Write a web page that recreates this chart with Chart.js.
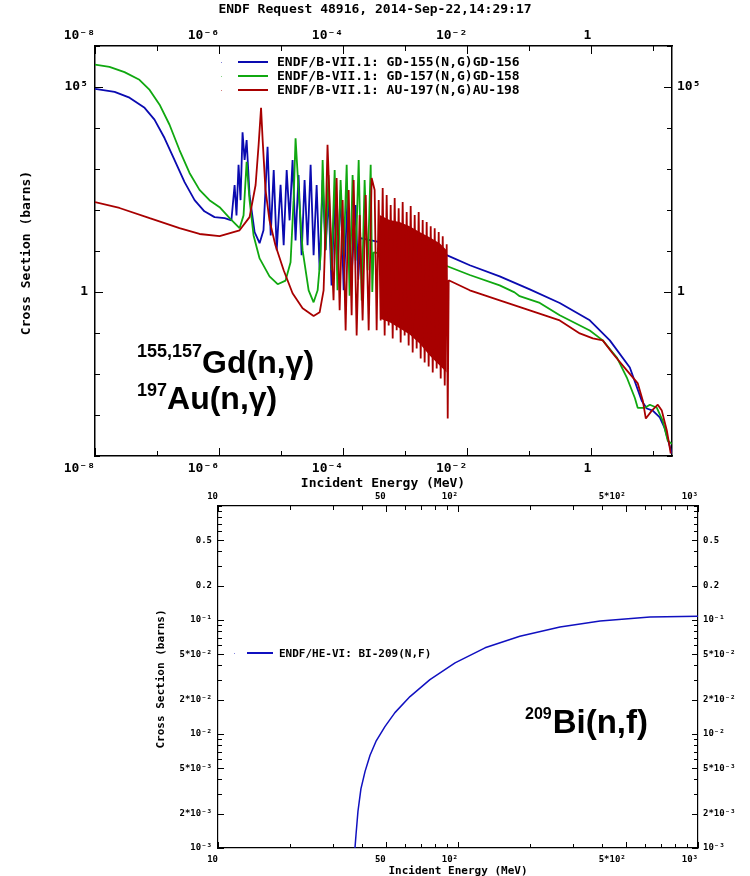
<!DOCTYPE html>
<html>
<head>
<meta charset="utf-8">
<script src="https://cdn.jsdelivr.net/npm/chart.js@4.4.1/dist/chart.umd.min.js"></script>
<style>
  html, body { margin: 0; padding: 0; background: #fff; }
  #wrap { position: relative; width: 750px; height: 876px; overflow: hidden; }
  #topChart { position: absolute; left: 0; top: 0; }
  #botChart { position: absolute; left: 0; top: 490px; }
</style>
</head>
<body>
<div id="wrap">
  <canvas id="topChart" width="750" height="492"></canvas>
  <canvas id="botChart" width="750" height="386"></canvas>
</div>
<script>
// ENDF request plot: (n,g) for Gd-155, Gd-157, Au-197 on top, Bi-209 (n,f) below
// points are [energy MeV, cross section barns]

const gd155 = [
  [1e-8, 9.0e4], [2.07e-8, 7.6e4], [3.6e-8, 5.5e4], [6.3e-8, 3.1e4], [9.1e-8, 1.6e4],
  [1.32e-7, 5.7e3], [1.91e-7, 1.66e3], [2.78e-7, 478], [4.03e-7, 174], [5.8e-7, 93],
  [8.45e-7, 67], [1.23e-6, 63], [1.58e-6, 56], [1.78e-6, 407], [1.91e-6, 74],
  [2.06e-6, 1260], [2.22e-6, 174], [2.39e-6, 7900], [2.58e-6, 1660], [2.78e-6, 5100],
  [3.1e-6, 229], [3.74e-6, 29], [4.5e-6, 15.5], [5.2e-6, 32], [6.05e-6, 3500],
  [6.8e-6, 24], [7.6e-6, 940], [8.5e-6, 10.5], [9.8e-6, 410], [1.1e-5, 13.8],
  [1.23e-5, 940], [1.37e-5, 56], [1.53e-5, 1660], [1.71e-5, 18], [1.91e-5, 710],
  [2.14e-5, 7.9], [2.39e-5, 540], [2.67e-5, 13.8], [2.99e-5, 1260], [3.34e-5, 7.9],
  [3.74e-5, 407], [4.18e-5, 3.4], [4.67e-5, 540], [5.2e-5, 10.5], [5.8e-5, 229],
  [6.5e-5, 1.45], [7.3e-5, 174], [8.1e-5, 3.4], [9.1e-5, 307], [1.02e-4, 1.1],
  [1.18e-4, 229], [1.37e-4, 2.6], [1.59e-4, 132], [1.75e-4, 2.0], [1.9e-4, 20.6],
  [7.85e-4, 13.1], [4.67e-3, 7.9],
  [1.1e-2, 4.5], [3.34e-2, 2.4], [0.102, 1.16], [0.31, 0.54], [0.946, 0.204],
  [1.99, 0.066], [4.18, 0.0144], [6.5, 2.24e-3], [7.85, 1.44e-3], [9.8, 1.28e-3],
  [12.7, 8.7e-4], [15.3, 4.7e-4], [19.9, 1.15e-4]
];

const gd157 = [
  [1e-8, 3.5e5], [1.71e-8, 3.1e5], [2.99e-8, 2.3e5], [5.2e-8, 1.5e5], [7.6e-8, 8.5e4],
  [1.1e-7, 3.7e4], [1.59e-7, 1.2e4], [2.3e-7, 2.9e3], [3.34e-7, 800], [4.84e-7, 310],
  [7.0e-7, 174], [1.02e-6, 117], [1.48e-6, 63], [2.14e-6, 36], [2.48e-6, 74],
  [2.78e-6, 1500], [3.1e-6, 174], [3.6e-6, 24], [4.5e-6, 6.6], [6.5e-6, 2.4],
  [8.8e-6, 1.55], [1.18e-5, 1.9], [1.42e-5, 5.3], [1.59e-5, 174], [1.71e-5, 5600],
  [1.91e-5, 310], [2.22e-5, 10.5], [2.78e-5, 1.1], [3.34e-5, 0.56], [3.88e-5, 1.1],
  [4.34e-5, 7.9], [4.67e-5, 1660], [5.2e-5, 10.5], [5.8e-5, 710], [6.5e-5, 3.4],
  [7.3e-5, 940], [8.1e-5, 1.1], [9.1e-5, 540], [1.02e-4, 7.9], [1.14e-4, 1260],
  [1.27e-4, 0.81], [1.42e-4, 710], [1.59e-4, 5.9], [1.78e-4, 1660], [1.99e-4, 0.62],
  [2.22e-4, 540], [2.48e-4, 3.4], [2.78e-4, 1260], [2.95e-4, 1.0], [3.1e-4, 9.3],
  [1.17e-3, 6.7], [4.67e-3, 4.3],
  [1.1e-2, 2.6], [3.34e-2, 1.45], [5.8e-2, 0.98], [7.0e-2, 0.79], [0.148, 0.54],
  [0.31, 0.27], [0.946, 0.115], [1.53, 0.066], [2.58, 0.0253], [3.74, 8.2e-3],
  [5.04, 2.6e-3], [5.6, 1.5e-3], [7.3, 1.5e-3], [8.8, 1.78e-3], [11.4, 1.5e-3],
  [14.2, 7.2e-4], [17.1, 2.35e-4], [19.9, 2.0e-4]
];

const au197 = [
  [1e-8, 155], [2.48e-8, 112], [7.6e-8, 63], [2.3e-7, 36], [4.84e-7, 26],
  [1.02e-6, 23], [2.14e-6, 32], [3.1e-6, 67], [3.88e-6, 407], [4.34e-6, 3900],
  [4.75e-6, 3.1e4], [5.04e-6, 5100], [5.6e-6, 310], [6.5e-6, 56], [8.1e-6, 13.8],
  [1.1e-5, 3.4], [1.53e-5, 0.93], [2.22e-5, 0.40], [3.34e-5, 0.26], [4.18e-5, 0.32],
  [4.84e-5, 1.1], [5.2e-5, 32], [5.6e-5, 3900], [6.3e-5, 32], [7.0e-5, 0.63],
  [7.85e-5, 603], [8.78e-5, 0.357], [9.81e-5, 175], [1.097e-4, 0.116], [1.227e-4, 307],
  [1.371e-4, 0.27], [1.477e-4, 537], [1.651e-4, 0.0873], [1.846e-4, 75], [2.06e-4, 0.203],
  [2.31e-4, 231], [2.58e-4, 0.116], [2.88e-4, 603], [3.22e-4, 307], [3.47e-4, 0.116],
  [3.74e-4, 175], [4.03e-4, 0.203], [4.34e-4, 343], [4.67e-4, 0.0873], [5.03e-4, 231],
  [5.42e-4, 0.153], [5.84e-4, 132], [6.29e-4, 0.0738], [6.77e-4, 195], [7.29e-4, 0.116],
  [7.85e-4, 111], [8.46e-4, 0.0589], [9.11e-4, 156], [9.81e-4, 0.0873], [1.057e-3, 89],
  [1.138e-3, 0.0498], [1.227e-3, 125], [1.321e-3, 0.0336], [1.423e-3, 75], [1.532e-3, 0.042],
  [1.65e-3, 89], [1.778e-3, 0.0239], [1.915e-3, 57], [2.06e-3, 0.0191], [2.22e-3, 51],
  [2.39e-3, 0.0152], [2.58e-3, 40], [2.78e-3, 0.0109], [2.99e-3, 36], [3.22e-3, 0.0136],
  [3.47e-3, 29], [3.74e-3, 7.76e-3], [4.03e-3, 23], [4.34e-3, 5.24e-3], [4.67e-3, 14.7],
  [4.85e-3, 8.17e-4], [5.03e-3, 1.93],
  [1.1e-2, 1.10], [3.34e-2, 0.627], [0.102, 0.357], [0.31, 0.203], [0.653, 0.0977],
  [1.06, 0.0738], [1.53, 0.066], [2.22, 0.0316], [3.74, 0.0123], [5.62, 5.9e-3],
  [6.77, 2.24e-3], [7.57, 8.2e-4], [9.46, 1.28e-3], [11.8, 1.78e-3], [13.7, 1.28e-3],
  [16.5, 4.2e-4], [19.1, 1.15e-4]
];

// inner envelope of the densely packed Au-197 resonances (drawn as a solid band)
const auBandE = [3.88e-4, 5.62e-4, 8.14e-4, 1.18e-3, 1.71e-3, 2.48e-3, 3.6e-3, 4.67e-3];
const auBandHigh = [75, 57, 51, 40, 29, 21.7, 15.5, 10.5];
const auBandLow = [0.227, 0.182, 0.13, 0.0925, 0.0557, 0.0283, 0.0161, 0.0109];

const bi209 = [
  [36.9, 8.0e-4], [37.6, 1.32e-3], [38.3, 2.1e-3], [39.4, 3.3e-3], [41.0, 4.7e-3],
  [43.0, 6.5e-3], [45.5, 8.6e-3], [49.6, 0.0116], [54.6, 0.0154], [63.1, 0.0213],
  [76.4, 0.030], [97.2, 0.042], [129.6, 0.057], [181, 0.072], [266, 0.087],
  [391, 0.098], [631, 0.106], [1000, 0.108]
];

const topLabels = [
  'ENDF/B-VII.1: GD-155(N,G)GD-156',
  'ENDF/B-VII.1: GD-157(N,G)GD-158',
  'ENDF/B-VII.1: AU-197(N,G)AU-198'
];
const botLabel = 'ENDF/HE-VI: BI-209(N,F)';

const topXTicks = [1e-8, 1e-7, 1e-6, 1e-5, 1e-4, 1e-3, 1e-2, 1e-1, 1, 10];
const topXLabelAt = [1e-8, 1e-6, 1e-4, 1e-2, 1];
const topXLabels = ['10⁻⁸', '10⁻⁶', '10⁻⁴', '10⁻²', '1'];
const topYTicks = [1e-4, 1e-3, 1e-2, 1e-1, 1, 10, 100, 1e3, 1e4, 1e5, 1e6];
const topYLabelAt = [1e5, 1];
const topYLabels = ['10⁵', '1'];

const botXTicks = [10, 20, 30, 40, 50, 60, 70, 80, 90, 100, 200, 300, 400, 500, 600, 700, 800, 900, 1000];
const botXLabelAt = [10, 50, 100, 500, 1000];
const botXLabels = ['10', '50', '10²', '5*10²', '10³'];
const botYTicks = [0.001, 0.002, 0.003, 0.004, 0.005, 0.006, 0.007, 0.008, 0.009,
  0.01, 0.02, 0.03, 0.04, 0.05, 0.06, 0.07, 0.08, 0.09,
  0.1, 0.2, 0.3, 0.4, 0.5, 0.6, 0.7, 0.8, 0.9, 1];
const botYLabelAt = [0.5, 0.2, 0.1, 0.05, 0.02, 0.01, 0.005, 0.002, 0.001];
const botYLabels = ['0.5', '0.2', '10⁻¹', '5*10⁻²', '2*10⁻²', '10⁻²', '5*10⁻³', '2*10⁻³', '10⁻³'];

const BLUE = '#0a0ab0', GREEN = '#10a810', RED = '#a80000';
const MONO = '"DejaVu Sans Mono", monospace';
const SANS = '"Liberation Sans", Arial, sans-serif';

function sameVal(a, b){ return Math.abs(Math.log10(a) - Math.log10(b)) < 1e-6; }
function labelFor(v, at, text){
  const i = at.findIndex(a => sameVal(a, v));
  return i < 0 ? '' : text[i];
}
function pts(arr){ return arr.map(p => ({x: p[0], y: p[1]})); }
function zipPts(xs, ys){ return xs.map((x, i) => ({x: x, y: ys[i]})); }

function logAxis(pos, min, max, ticks, at, text, size, fontSize, pad, borderW){
  const horiz = pos === 'top' || pos === 'bottom';
  return {
    type: 'logarithmic', position: pos, min: min, max: max,
    afterBuildTicks: s => { s.ticks = ticks.map(v => ({value: v})); },
    afterFit: s => { if (horiz) s.height = size; else s.width = size; },
    grid: { display: false, drawTicks: false },
    border: { display: true, color: '#000', width: borderW },
    ticks: {
      autoSkip: false, maxRotation: 0, minRotation: 0, padding: pad, color: '#000',
      align: horiz ? 'end' : 'center',
      font: { family: MONO, weight: 'bold', size: fontSize },
      callback: v => labelFor(v, at, text)
    }
  };
}

// tick marks drawn inward from each axis line
const inwardTicks = {
  id: 'inwardTicks',
  afterDatasetsDraw(chart, args, o){
    const {ctx, chartArea: a} = chart;
    ctx.save();
    ctx.strokeStyle = '#000';
    ctx.lineWidth = 1;
    Object.values(chart.scales).forEach(s => {
      const major = o.major[s.axis] || [];
      s.ticks.forEach(t => {
        const len = major.some(m => sameVal(m, t.value)) ? o.majorLen : o.minorLen;
        const p = Math.round(s.getPixelForValue(t.value)) + 0.5;
        ctx.beginPath();
        if (s.position === 'left'){ ctx.moveTo(a.left, p); ctx.lineTo(a.left + len, p); }
        if (s.position === 'right'){ ctx.moveTo(a.right, p); ctx.lineTo(a.right - len, p); }
        if (s.position === 'top'){ ctx.moveTo(p, a.top); ctx.lineTo(p, a.top + len); }
        if (s.position === 'bottom'){ ctx.moveTo(p, a.bottom); ctx.lineTo(p, a.bottom - len); }
        ctx.stroke();
      });
    });
    ctx.restore();
  }
};

// legend rows drawn inside the plot like the ENDF plotter does
const refLegend = {
  id: 'refLegend',
  afterDraw(chart, args, o){
    const ctx = chart.ctx;
    ctx.save();
    ctx.font = 'bold ' + o.size + 'px ' + MONO;
    ctx.textBaseline = 'middle';
    chart.data.datasets.filter(d => d.label).forEach((d, i) => {
      const y = o.y + i * o.dy;
      ctx.fillStyle = d.borderColor;
      ctx.globalAlpha = 0.5;
      ctx.fillRect(o.dotX, Math.round(y), 1, 1);
      ctx.globalAlpha = 1;
      ctx.strokeStyle = d.borderColor;
      ctx.lineWidth = 2;
      ctx.beginPath();
      ctx.moveTo(o.x0, y); ctx.lineTo(o.x1, y);
      ctx.stroke();
      ctx.fillStyle = '#000';
      ctx.fillText(d.label, o.textX, y + 1);
    });
    ctx.restore();
  }
};

// titles and the big reaction labels; "follow" continues after the previous text
const texts = {
  id: 'texts',
  afterDraw(chart, args, o){
    const ctx = chart.ctx;
    let endX = 0;
    ctx.save();
    ctx.fillStyle = '#000';
    o.items.forEach(t => {
      ctx.save();
      ctx.font = t.font;
      ctx.textAlign = t.align || 'left';
      ctx.textBaseline = t.base || 'alphabetic';
      const x = (t.follow !== undefined) ? endX + t.follow : t.x;
      ctx.translate(x, t.y);
      if (t.rot) ctx.rotate(t.rot);
      ctx.fillText(t.text, 0, 0);
      endX = x + ctx.measureText(t.text).width;
      ctx.restore();
    });
    ctx.restore();
  }
};

function lineSet(label, data, color, width, order){
  return { label: label, data: data, borderColor: color, backgroundColor: color,
    borderWidth: width, pointRadius: 0, tension: 0, fill: false, borderJoinStyle: 'bevel', order: order };
}

const bandHigh = lineSet('', zipPts(auBandE, auBandHigh), RED, 0, 0);
const bandLow = lineSet('', zipPts(auBandE, auBandLow), RED, 0, 0);
bandLow.fill = '-1';

new Chart(document.getElementById('topChart'), {
  type: 'line',
  data: { datasets: [
    lineSet(topLabels[0], pts(gd155), BLUE, 1.8, 2),
    lineSet(topLabels[1], pts(gd157), GREEN, 1.8, 1),
    lineSet(topLabels[2], pts(au197), RED, 1.8, 0),
    bandHigh, bandLow
  ]},
  options: {
    responsive: false, animation: false, devicePixelRatio: 1, parsing: false,
    layout: { padding: 0 },
    scales: {
      x: logAxis('bottom', 1e-8, 20, topXTicks, topXLabelAt, topXLabels, 36, 13, 5, 1.5),
      x2: logAxis('top', 1e-8, 20, topXTicks, topXLabelAt, topXLabels, 46, 13, 3, 1.5),
      y: logAxis('left', 1e-4, 1e6, topYTicks, topYLabelAt, topYLabels, 95, 13, 7, 1.5),
      y2: logAxis('right', 1e-4, 1e6, topYTicks, topYLabelAt, topYLabels, 78, 13, 5, 1.5)
    },
    plugins: {
      legend: { display: false }, tooltip: { enabled: false },
      filler: { propagate: false },
      inwardTicks: { majorLen: 8, minorLen: 5, major: { x: topXLabelAt, y: topYLabelAt } },
      refLegend: { x0: 238, x1: 268, textX: 277, y: 62, dy: 14, size: 13, dotX: 221 },
      texts: { items: [
        { text: 'ENDF Request 48916, 2014-Sep-22,14:29:17', x: 375, y: 10, align: 'center', base: 'middle', font: 'bold 13px ' + MONO },
        { text: 'Incident Energy (MeV)', x: 383, y: 484, align: 'center', base: 'middle', font: 'bold 13px ' + MONO },
        { text: 'Cross Section (barns)', x: 27, y: 253, align: 'center', base: 'middle', rot: -Math.PI / 2, font: 'bold 13px ' + MONO },
        { text: '155,157', x: 137, y: 357, font: 'bold 18px ' + SANS },
        { text: 'Gd(n,γ)', follow: 0, y: 373, font: 'bold 32px ' + SANS },
        { text: '197', x: 137, y: 396, font: 'bold 18px ' + SANS },
        { text: 'Au(n,γ)', follow: 0, y: 409, font: 'bold 32px ' + SANS }
      ]}
    }
  },
  plugins: [inwardTicks, refLegend, texts]
});

new Chart(document.getElementById('botChart'), {
  type: 'line',
  data: { datasets: [ lineSet(botLabel, pts(bi209), '#1010c0', 1.5, 0) ] },
  options: {
    responsive: false, animation: false, devicePixelRatio: 1, parsing: false,
    layout: { padding: 0 },
    scales: {
      x: logAxis('bottom', 10, 1000, botXTicks, botXLabelAt, botXLabels, 28, 9, 6, 1.2),
      x2: logAxis('top', 10, 1000, botXTicks, botXLabelAt, botXLabels, 16, 9, 4, 1.2),
      y: logAxis('left', 1e-3, 1, botYTicks, botYLabelAt, botYLabels, 218, 9, 6, 1.2),
      y2: logAxis('right', 1e-3, 1, botYTicks, botYLabelAt, botYLabels, 52, 9, 5, 1.2)
    },
    plugins: {
      legend: { display: false }, tooltip: { enabled: false },
      inwardTicks: { majorLen: 6, minorLen: 4, major: { x: botXLabelAt, y: botYLabelAt } },
      refLegend: { x0: 247, x1: 273, textX: 279, y: 163, dy: 0, size: 11, dotX: 234 },
      texts: { items: [
        { text: 'Incident Energy (MeV)', x: 458, y: 381, align: 'center', base: 'middle', font: 'bold 11px ' + MONO },
        { text: 'Cross Section (barns)', x: 161, y: 189, align: 'center', base: 'middle', rot: -Math.PI / 2, font: 'bold 11px ' + MONO },
        { text: '209', x: 525, y: 229, font: 'bold 16px ' + SANS },
        { text: 'Bi(n,f)', follow: 1, y: 243, font: 'bold 33px ' + SANS }
      ]}
    }
  },
  plugins: [inwardTicks, refLegend, texts]
});
</script>
</body>
</html>
